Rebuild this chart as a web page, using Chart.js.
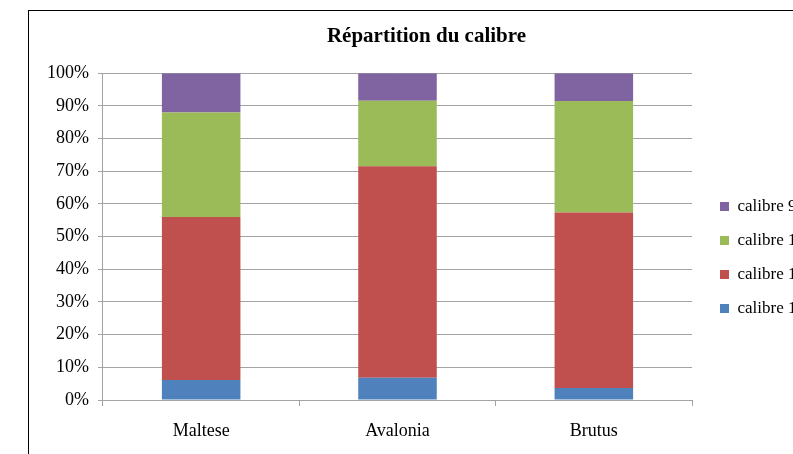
<!DOCTYPE html>
<html>
<head>
<meta charset="utf-8">
<script src="https://cdn.jsdelivr.net/npm/chart.js@4"></script>
<style>
  html, body { margin: 0; padding: 0; overflow: hidden; background: #fff; }
  #frame {
    position: absolute; left: 28px; top: 10px;
    border-left: 1px solid #000; border-top: 1px solid #000;
  }
  canvas { display: block; }
</style>
</head>
<body>
<div id="frame"><canvas id="myChart" width="792" height="493"></canvas></div>
<script>
const varietes = ["Maltese", "Avalonia", "Brutus"];
const calibre12 = [6.1, 6.8, 3.7];
const calibre11 = [49.9, 64.7, 53.7];
const calibre10 = [32.0, 20.1, 34.1];
const calibre9 = [12.0, 8.4, 8.5];
const yTicks = [0, 10, 20, 30, 40, 50, 60, 70, 80, 90, 100];

const serif = "'Liberation Serif', 'Times New Roman', serif";
const gris = "#a3a3a3";

const ctx = document.getElementById("myChart");
new Chart(ctx, {
  type: "bar",
  data: {
    labels: varietes,
    datasets: [
      { label: "calibre 12", data: calibre12, backgroundColor: "#4F81BD" },
      { label: "calibre 11", data: calibre11, backgroundColor: "#C0504D" },
      { label: "calibre 10", data: calibre10, backgroundColor: "#9BBB59" },
      { label: "calibre 9", data: calibre9, backgroundColor: "#8064A2" },
    ],
  },
  options: {
    responsive: false,
    animation: false,
    devicePixelRatio: 1,
    layout: { padding: { left: 9, right: 6, top: 0, bottom: 0 } },
    datasets: { bar: { barPercentage: 0.4, categoryPercentage: 1 } },
    scales: {
      x: {
        stacked: true,
        grid: { display: true, drawOnChartArea: false, offset: true, tickLength: 6, color: gris, lineWidth: 1 },
        border: { display: true, color: gris, width: 1 },
        ticks: { color: "#000", padding: 14, font: { family: serif, size: 18 } },
        afterFit: (scale) => { scale.height = 104; },
      },
      y: {
        stacked: true,
        min: 0,
        max: 100,
        afterBuildTicks: (scale) => { scale.ticks = yTicks.map((v) => ({ value: v })); },
        grid: { color: gris, lineWidth: 1, tickLength: 5 },
        border: { display: true, color: gris, width: 1 },
        ticks: {
          color: "#000",
          padding: 9,
          font: { family: serif, size: 18 },
          callback: (v) => v + "%",
        },
      },
      spacer: {
        position: "right",
        display: true,
        grid: { display: false },
        border: { display: false },
        ticks: { display: false },
        afterFit: (scale) => { scale.width = 11; },
      },
    },
    plugins: {
      title: {
        display: true,
        text: "Répartition du calibre",
        color: "#000",
        font: { family: serif, size: 21, weight: "bold" },
        padding: { top: 13, bottom: 24 },
      },
      legend: {
        position: "right",
        reverse: true,
        labels: {
          color: "#000",
          boxWidth: 9,
          boxHeight: 9,
          padding: 17,
          font: { family: serif, size: 17 },
        },
      },
      tooltip: { enabled: false },
    },
  },
});
</script>
</body>
</html>
